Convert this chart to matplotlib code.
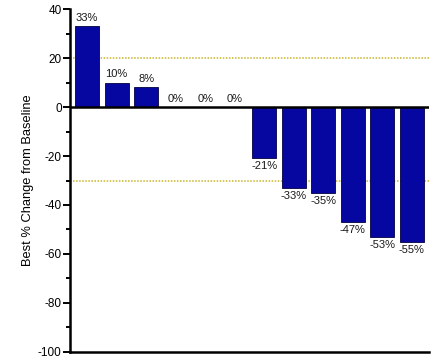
import matplotlib.pyplot as plt

plt.rcParams["font.family"] = ["Liberation Sans", "DejaVu Sans"]
plt.rcParams["axes.unicode_minus"] = False

# best percent change per patient, sorted high to low
values = [33, 10, 8, 0, 0, 0, -21, -33, -35, -47, -53, -55]
labels = ["33%", "10%", "8%", "0%", "0%", "0%", "-21%", "-33%", "-35%", "-47%", "-53%", "-55%"]
thresholds = [20, -30]
yticks = [40, 20, 0, -20, -40, -60, -80, -100]

BAR_COLOR = "#0606a0"
LINE_COLOR = "#c9b52a"


def main() -> None:
    fig = plt.figure(figsize=(4.38, 3.61), dpi=100)
    ax = fig.add_axes([0.160, 0.025, 0.819, 0.950])

    x = list(range(len(values)))
    ax.bar(x, values, width=0.81, color=BAR_COLOR, edgecolor="#000040", linewidth=0.6, zorder=3)

    for t in thresholds:
        ax.axhline(t, color=LINE_COLOR, linestyle=(0, (1, 1)), linewidth=1.1, zorder=1)
    ax.axhline(0, color="black", linewidth=1.8, zorder=4)

    for xi, v, lab in zip(x, values, labels):
        if v >= 0:
            ax.annotate(lab, (xi, v), xytext=(0, 2.5), textcoords="offset points",
                        ha="center", va="bottom", fontsize=8, color="#1a1a1a")
        else:
            ax.annotate(lab, (xi, v), xytext=(0, -2), textcoords="offset points",
                        ha="center", va="top", fontsize=8, color="#1a1a1a")

    ax.set_xlim(-0.58, 11.58)
    ax.set_ylim(-100, 40)
    ax.set_yticks(yticks)
    ax.set_yticks(range(-90, 40, 20), minor=True)
    ax.set_xticks([])
    ax.tick_params(axis="y", which="major", length=5, width=1.4, labelsize=8.5, pad=1)
    ax.tick_params(axis="y", which="minor", length=3, width=1.4)

    for side in ("top", "right"):
        ax.spines[side].set_visible(False)
    ax.spines["left"].set_linewidth(1.8)
    ax.spines["bottom"].set_linewidth(1.8)

    ax.set_ylabel("Best % Change from Baseline", fontsize=9.3, labelpad=3)

    fig.savefig("out.png", dpi=100, facecolor="white")
    plt.close(fig)


if __name__ == "__main__":
    main()
